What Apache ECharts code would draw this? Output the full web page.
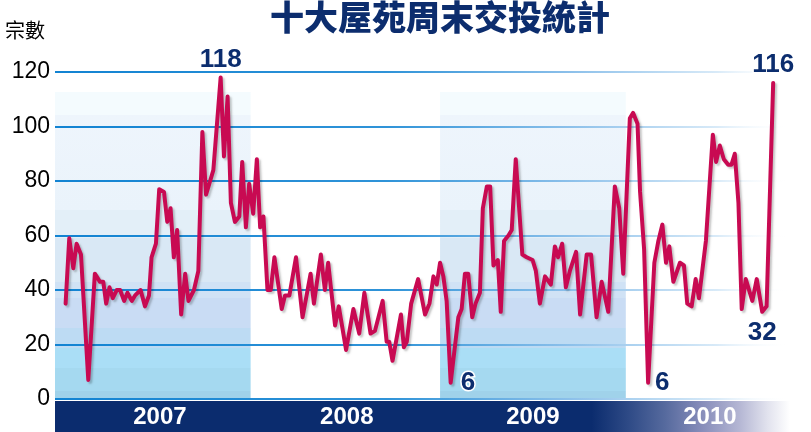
<!DOCTYPE html>
<html><head><meta charset="utf-8">
<script src="https://cdn.jsdelivr.net/npm/echarts@6/dist/echarts.min.js"></script>
<style>html,body{margin:0;padding:0;background:#fff}#c{width:811px;height:432px}</style>
</head><body><div id="c"></div>
<script>
// x position of each turning point of the line, in weeks since the start of 2007
const weeks = [2.9,3.9,5.0,5.9,7.1,9.1,10.9,12.3,13.2,14.0,
14.9,15.8,16.9,17.8,18.9,19.8,21.0,21.9,23.4,24.6,
25.7,26.4,27.6,28.5,29.8,30.7,31.6,32.5,33.4,34.5,
35.6,36.5,38.0,39.2,40.3,41.3,42.2,43.3,45.3,46.2,
47.2,48.1,49.2,50.4,51.2,52.2,53.1,54.2,55.2,56.1,
57.0,58.1,59.0,60.0,62.0,62.9,64.1,65.9,67.7,69.9,
70.8,72.7,73.8,74.7,76.6,77.6,79.6,81.6,83.2,84.6,
86.3,87.5,89.6,90.7,91.4,92.3,94.6,95.4,96.2,97.4,
99.3,101.2,102.4,103.5,104.4,105.3,106.2,107.1,108.2,110.3,
111.2,112.1,113.0,114.1,115.0,116.2,117.0,118.1,119.0,119.9,
121.1,121.9,122.8,124.0,124.9,126.0,127.8,129.0,130.6,131.5,
132.6,134.0,135.6,136.7,137.6,138.7,139.7,140.8,142.5,143.6,
145.4,146.6,148.1,149.5,151.3,153.1,154.3,155.4,157.2,158.1,
159.3,160.0,161.1,162.2,163.9,165.0,166.1,167.1,168.0,169.1,
170.9,172.0,172.9,174.1,175.2,176.1,178.0,179.9,180.8,181.8,
182.9,184.1,185.0,185.9,186.9,187.8,188.9,190.7,191.9,193.4,
194.6,196.4];
// weekend transaction counts (宗數)
const counts = [35,59,48,57,53,7,46,43,43,35,
41,37,40,40,36,39,36,38,40,34,
38,52,57,77,76,65,70,52,62,31,
46,36,40,47,98,75,79,84,118,89,
111,72,65,67,87,63,79,68,88,63,
67,40,40,52,33,38,38,52,30,46,
35,53,40,50,27,34,18,33,24,39,
24,25,36,21,21,14,31,19,21,35,
44,31,35,45,42,50,45,36,6,30,
33,46,46,30,35,39,70,78,78,49,
51,32,58,60,62,88,53,52,51,47,
35,45,42,56,52,57,41,47,54,31,
53,53,30,43,32,78,70,46,103,105,
101,76,55,6,50,58,64,50,56,43,
50,49,35,34,44,37,58,97,87,93,
88,86,86,90,72,33,44,36,44,32,
34,116];
const years = ['2007','2008','2009','2010'];
const yearLabelWeeks = [28.7, 79.8, 130.7, 179.1];
const shadedYears = [[0, 53.5], [105.3, 156.1]];
const shadeTop = 112.7;
const callouts = [
  {index: 38, position: 'top', distance: 5},
  {index: 88, position: 'right', distance: 10},
  {index: 133, position: 'right', distance: 7},
  {index: 159, position: 'bottom', distance: 8},
  {index: 161, position: 'top', distance: 5}
];

const chart = echarts.init(document.getElementById('c'), null, {renderer: 'canvas'});

const shadeGrad = new echarts.graphic.LinearGradient(0, 0, 0, 1, [
  {offset: 0, color: '#f4fbfe'}, {offset: 0.075, color: '#f4fbfe'},
  {offset: 0.075, color: '#eef5fc'}, {offset: 0.384, color: '#eaf3fb'},
  {offset: 0.384, color: '#e3eff8'}, {offset: 0.476, color: '#e3eff8'},
  {offset: 0.476, color: '#d9e8f5'}, {offset: 0.619, color: '#d9e8f5'},
  {offset: 0.619, color: '#d0e2f5'}, {offset: 0.671, color: '#d0e2f5'},
  {offset: 0.671, color: '#c9dcf4'}, {offset: 0.769, color: '#c9dcf4'},
  {offset: 0.769, color: '#bddbf3'}, {offset: 0.834, color: '#bddbf3'},
  {offset: 0.834, color: '#aadef6'}, {offset: 0.899, color: '#aadef6'},
  {offset: 0.899, color: '#a5d9f0'}, {offset: 0.974, color: '#a5d9f0'},
  {offset: 0.974, color: '#a0d2ea'}, {offset: 1, color: '#a0d2ea'}
]);
const gridGrad = new echarts.graphic.LinearGradient(55, 0, 790, 0, [
  {offset: 0, color: '#1283d2'}, {offset: 0.45, color: '#2f93d8'},
  {offset: 0.7, color: '#8cc0ea'}, {offset: 0.9, color: '#d8eaf8'},
  {offset: 1, color: 'rgba(255,255,255,0)'}
], true);
const bandGrad = new echarts.graphic.LinearGradient(0, 0, 1, 0, [
  {offset: 0, color: '#0b2c6e'}, {offset: 0.73, color: '#0b2c6e'},
  {offset: 0.78, color: '#2e4a86'}, {offset: 0.83, color: '#566a9e'},
  {offset: 0.88, color: '#878dba'}, {offset: 0.93, color: '#b3b5d3'},
  {offset: 0.97, color: '#e2e3ee'}, {offset: 1, color: '#ffffff'}
]);

const lineData = counts.map((v, i) => {
  const item = {value: [weeks[i], v]};
  const c = callouts.find(o => o.index === i);
  if (c) {
    item.label = {
      show: true, position: c.position, distance: c.distance,
      formatter: p => String(p.value[1]),
      color: '#0c2d6e', fontSize: 26, fontWeight: 'bold',
      fontFamily: 'Liberation Sans', textBorderColor: '#fff', textBorderWidth: 3
    };
  }
  return item;
});

chart.setOption({
  animation: false,
  backgroundColor: '#fff',
  title: [
    {text: '十大屋苑周末交投統計', left: 265, top: -5,
     textStyle: {fontFamily: 'Noto Sans CJK TC', fontSize: 34, fontWeight: 900, color: '#0c2d6e'}},
    {text: '宗數', left: 0, top: 15,
     textStyle: {fontFamily: 'Noto Sans CJK TC', fontSize: 20, fontWeight: 'normal', color: '#000'}}
  ],
  grid: {left: 55, right: 21, top: 72, bottom: 33},
  graphic: [{type: 'rect', z: -1, silent: true,
    shape: {x: 55, y: 401, width: 735, height: 31}, style: {fill: bandGrad}}],
  xAxis: {
    type: 'value', min: 0, max: 201, z: 5,
    axisLine: {show: false}, axisTick: {show: false}, splitLine: {show: false},
    axisLabel: {
      customValues: yearLabelWeeks,
      formatter: v => {
        let best = 0;
        yearLabelWeeks.forEach((w, i) => { if (Math.abs(w - v) < Math.abs(yearLabelWeeks[best] - v)) best = i; });
        return years[best];
      },
      color: '#fff', fontSize: 24, fontWeight: 'bold', fontFamily: 'Liberation Sans', margin: 6
    }
  },
  yAxis: {
    type: 'value', min: 0, max: 120, interval: 20, z: 1,
    axisLine: {show: false}, axisTick: {show: false},
    splitLine: {show: true, lineStyle: {color: gridGrad, width: 2}},
    axisLabel: {color: '#000', fontSize: 23, fontFamily: 'Liberation Sans', margin: 5}
  },
  series: [
    {
      type: 'custom', z: 0, silent: true,
      encode: {x: [0, 1]},
      data: shadedYears,
      renderItem: (params, api) => {
        const p0 = api.coord([api.value(0), shadeTop]);
        const p1 = api.coord([api.value(1), 0]);
        return {type: 'rect', shape: {x: p0[0], y: p0[1], width: p1[0] - p0[0], height: p1[1] - p0[1]},
                style: {fill: shadeGrad}};
      }
    },
    {
      type: 'line', z: 3,
      data: lineData,
      symbol: 'circle', symbolSize: 0, showSymbol: true, showAllSymbol: true,
      lineStyle: {color: '#c80a52', width: 4, join: 'round', cap: 'round',
        shadowColor: 'rgba(0,0,0,0.22)', shadowBlur: 2, shadowOffsetX: 2, shadowOffsetY: 2},
      itemStyle: {color: '#c80a52'},
      emphasis: {disabled: true}
    }
  ]
});
</script>
</body></html>
